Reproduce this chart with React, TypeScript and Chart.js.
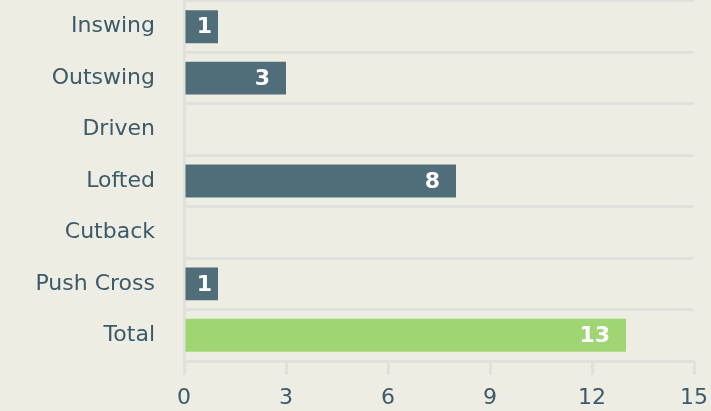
import React, { useEffect, useRef } from "react";
import { Chart, registerables } from "chart.js";

Chart.register(...registerables);

const categories = ["Inswing", "Outswing", "Driven", "Lofted", "Cutback", "Push Cross", "Total"];
const values = [1, 3, 0, 8, 0, 1, 13];
const barColors = ["#506e7a", "#506e7a", "#506e7a", "#506e7a", "#506e7a", "#506e7a", "#9fd673"];
const xMax = 15;
const xStep = 3;

const BG = "#eeede3";
const TEXT = "#3b5a6a";
const GRID = "#e0e0dc";
const FONT = "'DejaVu Sans', sans-serif";

const valueLabels = {
  id: "valueLabels",
  afterDatasetsDraw(chart: any) {
    const ctx = chart.ctx;
    const meta = chart.getDatasetMeta(0);
    ctx.save();
    ctx.font = `bold 22px ${FONT}`;
    ctx.fillStyle = "#ffffff";
    ctx.textBaseline = "middle";
    ctx.textAlign = "right";
    meta.data.forEach((bar: any, i: number) => {
      const v = values[i];
      if (!v) return;
      const txt = String(v);
      const w = ctx.measureText(txt).width;
      const start = bar.base;
      const end = bar.x;
      let xr = end - 16;
      if (xr - w < start + 8) xr = end - 6;
      ctx.fillText(txt, xr, bar.y + 1);
    });
    ctx.restore();
  },
};

const bgPlugin = {
  id: "bgFill",
  beforeDraw(chart: any) {
    const ctx = chart.ctx;
    ctx.save();
    ctx.fillStyle = BG;
    ctx.fillRect(0, 0, chart.width, chart.height);
    ctx.restore();
  },
};

export default function App() {
  const ref = useRef<HTMLCanvasElement | null>(null);

  useEffect(() => {
    document.body.style.margin = "0";
    document.body.style.background = BG;
    if (!ref.current) return;
    const chart = new Chart(ref.current, {
      type: "bar",
      data: {
        labels: categories,
        datasets: [
          {
            data: values,
            backgroundColor: barColors,
            barPercentage: 0.8,
            categoryPercentage: 0.8,
          },
        ],
      },
      options: {
        indexAxis: "y",
        animation: false,
        responsive: false,
        maintainAspectRatio: false,
        layout: { padding: { top: 1, right: 0, left: 0, bottom: 0 } },
        plugins: {
          legend: { display: false },
          tooltip: { enabled: false },
        },
        scales: {
          x: {
            min: 0,
            max: xMax,
            afterFit: (scale: any) => {
              scale.paddingRight = 17;
              scale.height = 50;
            },
            ticks: {
              stepSize: xStep,
              color: TEXT,
              font: { family: FONT, size: 22 },
              padding: 10,
            },
            grid: {
              drawOnChartArea: false,
              color: GRID,
              lineWidth: 3,
              tickLength: 14,
            },
            border: { display: false },
          },
          y: {
            afterFit: (scale: any) => {
              scale.width = 184;
              scale.paddingTop = 0;
              scale.paddingBottom = 0;
            },
            ticks: {
              color: TEXT,
              font: { family: FONT, size: 22 },
              padding: 29,
            },
            grid: {
              color: GRID,
              lineWidth: 3,
              drawTicks: false,
              offset: true,
            },
            border: { color: GRID, width: 3 },
          },
        },
      },
      plugins: [bgPlugin, valueLabels],
    });
    return () => chart.destroy();
  }, []);

  return (
    <div style={{ width: 711, height: 411, background: BG }}>
      <canvas ref={ref} width={711} height={411} style={{ display: "block" }} />
    </div>
  );
}
